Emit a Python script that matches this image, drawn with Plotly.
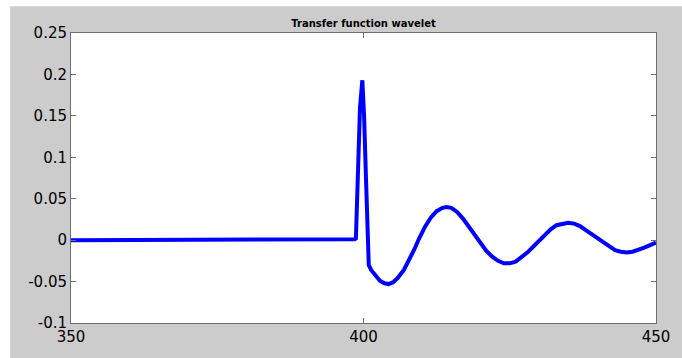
import plotly.graph_objects as go

# Wavelet samples (time, amplitude)
t = [350, 395, 395.5, 396.5, 397, 398.5, 398.7, 399.0, 399.4, 399.8, 400.1, 400.4, 400.7, 400.9,
     401.3, 402.0, 402.8, 403.6, 404.3, 405.0, 405.8, 406.9, 407.8, 408.7, 409.5, 410.5, 411.5, 412.5,
     413.5, 414.2, 415, 416, 417, 418, 419, 420, 421, 422, 423, 424, 425, 426, 427, 428, 429,
     430, 431, 432, 433, 434, 435, 436, 437, 438, 439, 440, 441, 442, 443, 444, 445, 446, 447,
     448, 449, 450]
amp = [0, 0, 0.001, 0.0, 0.001, 0.001, 0.002, 0.08, 0.16, 0.193, 0.15, 0.08, 0.0, -0.030,
       -0.036, -0.043, -0.049, -0.052, -0.053, -0.051, -0.046, -0.036, -0.024, -0.011, 0.002, 0.016, 0.027, 0.035,
       0.039, 0.040, 0.039, 0.034, 0.026, 0.016, 0.006, -0.004, -0.013, -0.020, -0.025, -0.028, -0.028, -0.026, -0.021, -0.015, -0.008,
       -0.001, 0.007, 0.013, 0.018, 0.020, 0.021, 0.020, 0.017, 0.012, 0.007, 0.002, -0.003, -0.008, -0.012, -0.014, -0.0148, -0.014, -0.012,
       -0.009, -0.006, -0.003]

x_ticks = [350, 400, 450]
x_labels = ["350", "400", "450"]
y_ticks = [-0.1, -0.05, 0, 0.05, 0.1, 0.15, 0.2, 0.25]
y_labels = ["-0.1", "-0.05", "0", "0.05", "0.1", "0.15", "0.2", "0.25"]

fig = go.Figure()
fig.add_trace(go.Scatter(x=t, y=amp, mode="lines",
                         line=dict(color="#0000ff", width=4), showlegend=False,
                         hoverinfo="skip"))

axis_common = dict(showline=True, linecolor="#6e6e6e", linewidth=1, mirror="ticks",
                   ticks="inside", ticklen=5, tickcolor="#6e6e6e", showgrid=False,
                   zeroline=False, tickfont=dict(family="DejaVu Sans", size=15, color="black"))

fig.update_xaxes(range=[350, 450], tickvals=x_ticks, ticktext=x_labels, **axis_common)
fig.update_yaxes(range=[-0.1, 0.25], tickvals=y_ticks, ticktext=y_labels, **axis_common)

fig.update_layout(
    width=682, height=358,
    margin=dict(l=71, r=24, t=33, b=22),
    paper_bgcolor="#cccccc", plot_bgcolor="white",
    title=dict(text="<b>Transfer function wavelet</b>", x=0.5, xref="paper", xanchor="center",
               y=1 - 23 / 358, yref="container", yanchor="middle",
               font=dict(family="DejaVu Sans", size=10, color="black")),
    shapes=[
        dict(type="rect", xref="paper", yref="paper", x0=-0.2, x1=1.2,
             y0=(336 - 5) / 303, y1=1.3, fillcolor="white", line=dict(width=0), layer="below"),
        dict(type="rect", xref="paper", yref="paper", x0=-0.2, x1=(10 - 71) / 587,
             y0=-0.2, y1=1.3, fillcolor="white", line=dict(width=0), layer="below"),
    ],
)

fig.write_html("out.html")
